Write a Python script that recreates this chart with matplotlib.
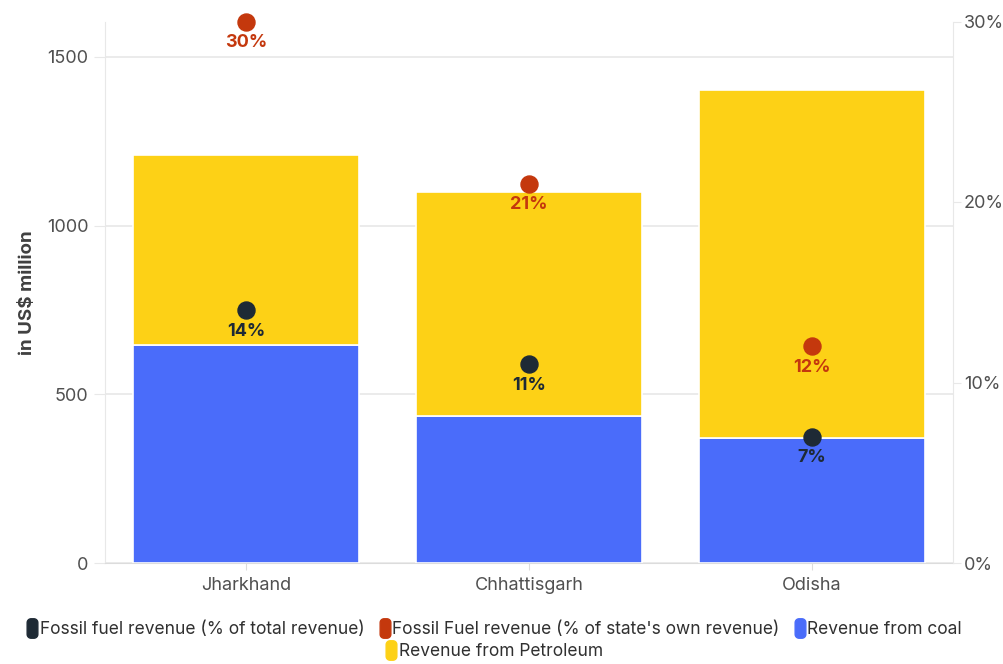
import matplotlib
matplotlib.use("Agg")
import matplotlib.pyplot as plt
import matplotlib.path as mpath
import numpy as np
from matplotlib.lines import Line2D

plt.rcParams['font.family'] = ['Inter', 'DejaVu Sans']

# Data
states = ["Jharkhand", "Chhattisgarh", "Odisha"]
coal_revenue = [646, 436, 371]            # US$ million
petroleum_revenue = [563, 664, 1031]      # US$ million
share_total_revenue = [14, 11, 7]         # % of total revenue
share_own_revenue = [30, 21, 12]          # % of state's own revenue
left_ticks = [0, 500, 1000, 1500]
right_ticks = [0, 10, 20, 30]

COAL = "#4a6cfa"
PETROL = "#fdd116"
RED = "#c4380d"
DARK = "#1e2a35"
GRID = "#e8e8e8"
TICK_TXT = "#505050"

fig = plt.figure(figsize=(10.04, 6.64), dpi=100)
W, H = 1004, 664
ax = fig.add_axes([105 / W, (H - 563) / H, (953 - 105) / W, (563 - 21.5) / H])
ax2 = ax.twinx()

x = np.arange(len(states))
ax.bar(x, coal_revenue, width=0.8, color=COAL, edgecolor="white", linewidth=1.2, zorder=2)
ax.bar(x, petroleum_revenue, bottom=coal_revenue, width=0.8, color=PETROL,
       edgecolor="white", linewidth=1.2, zorder=2)

ax.set_xlim(-0.5, 2.5)
ax.set_ylim(0, 1605)
ax.set_yticks(left_ticks)
ax.set_xticks(x)
ax.set_xticklabels(states)
ax.grid(axis="y", color=GRID, linewidth=1.2, zorder=0)
ax.set_axisbelow(True)

for s in ["top", "right"]:
    ax.spines[s].set_visible(False)
ax.spines["left"].set_color(GRID)
ax.spines["bottom"].set_color("#dcdcdc")
ax.tick_params(axis="y", length=8, color=GRID, labelsize=13, labelcolor=TICK_TXT, pad=4)
ax.tick_params(axis="x", length=5, color="#dcdcdc", labelsize=13, labelcolor=TICK_TXT, pad=5)
ax.set_ylabel("in US$ million", fontsize=13.5, fontweight="bold", color="#404040", labelpad=8)

ax2.set_ylim(0, 30)
ax2.set_yticks(right_ticks)
ax2.set_yticklabels([f"{t}%" for t in right_ticks])
for s in ["top", "left", "bottom"]:
    ax2.spines[s].set_visible(False)
ax2.spines["right"].set_color(GRID)
ax2.tick_params(axis="y", length=6, color=GRID, labelsize=13, labelcolor=TICK_TXT, pad=2)

ax2.scatter(x, share_total_revenue, s=150, color=DARK, zorder=5)
ax2.scatter(x, share_own_revenue, s=150, color=RED, zorder=5, clip_on=False)
for xi, v in zip(x, share_total_revenue):
    ax2.annotate(f"{v}%", (xi, v), xytext=(0, -9), textcoords="offset points",
                 ha="center", va="top", fontsize=13, fontweight="bold", color=DARK)
for xi, v in zip(x, share_own_revenue):
    ax2.annotate(f"{v}%", (xi, v), xytext=(0, -9), textcoords="offset points",
                 ha="center", va="top", fontsize=13, fontweight="bold", color=RED)

# Rounded pill-shaped legend marker
def pill_path(w=0.55, h=1.0, r=0.2, n=8):
    verts = []
    corners = [(w / 2 - r, h / 2 - r, 0), (-w / 2 + r, h / 2 - r, 90),
               (-w / 2 + r, -h / 2 + r, 180), (w / 2 - r, -h / 2 + r, 270)]
    for cx, cy, a0 in corners:
        for t in np.linspace(np.radians(a0), np.radians(a0 + 90), n):
            verts.append((cx + r * np.cos(t), cy + r * np.sin(t)))
    verts.append(verts[0])
    codes = [mpath.Path.MOVETO] + [mpath.Path.LINETO] * (len(verts) - 2) + [mpath.Path.CLOSEPOLY]
    return mpath.Path(verts, codes)

PILL = pill_path()

def handle(c):
    return Line2D([], [], linestyle="none", marker=PILL, markersize=14,
                  markerfacecolor=c, markeredgecolor=c)

row1 = [(DARK, "Fossil fuel revenue (% of total revenue)"),
        (RED, "Fossil Fuel revenue (% of state's own revenue)"),
        (COAL, "Revenue from coal")]
row2 = [(PETROL, "Revenue from Petroleum")]

common = dict(frameon=False, fontsize=12.5, handlelength=0.5, handletextpad=0.2,
              columnspacing=0.9, labelcolor="#303030", borderpad=0)
leg1 = fig.legend([handle(c) for c, _ in row1], [l for _, l in row1], ncol=3,
                  loc="center", bbox_to_anchor=(0.493, (H - 630) / H), **common)
leg2 = fig.legend([handle(c) for c, _ in row2], [l for _, l in row2], ncol=1,
                  loc="center", bbox_to_anchor=(0.493, (H - 652) / H), **common)

fig.savefig("out.png", dpi=100)
